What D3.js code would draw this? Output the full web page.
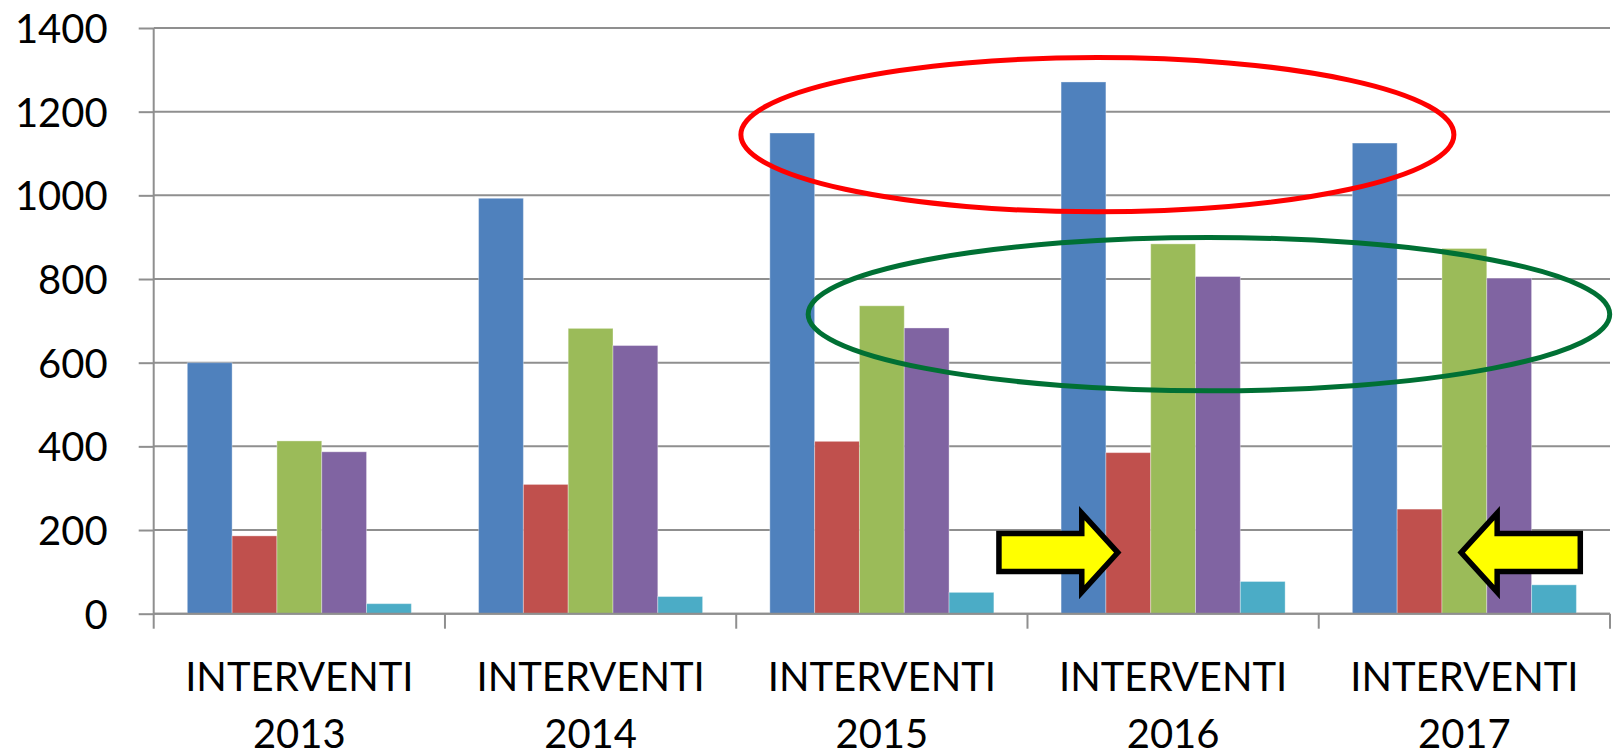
<!DOCTYPE html>
<html>
<head>
<meta charset="utf-8">
<script src="https://cdn.jsdelivr.net/npm/d3@7"></script>
<style>
  html, body { margin: 0; padding: 0; background: #fff; }
  svg { display: block; }
  text { font-family: Lato, "Open Sans", sans-serif; fill: #000; }
</style>
</head>
<body>
<svg id="chart" width="1617" height="755"></svg>
<script>
// Categories (two-line labels) and the five series per year
const categories = ["INTERVENTI 2013", "INTERVENTI 2014", "INTERVENTI 2015", "INTERVENTI 2016", "INTERVENTI 2017"];
const seriesA = [600, 993, 1149, 1271, 1125];   // blue
const seriesB = [186, 309, 412, 385, 250];      // red
const seriesC = [413, 682, 736, 884, 873];      // green
const seriesD = [387, 641, 683, 806, 802];      // purple
const seriesE = [24, 41, 51, 77, 69];           // teal
const yTicks = [0, 200, 400, 600, 800, 1000, 1200, 1400];

const series = [seriesA, seriesB, seriesC, seriesD, seriesE];
const colors = ["#4f81bd", "#c0504d", "#9bbb59", "#8064a2", "#4bacc6"];

const svg = d3.select("#chart");
const margin = { left: 153.7, top: 28, right: 7, bottom: 141.3 };
const W = 1617, H = 755;
const innerW = W - margin.left - margin.right;
const innerH = H - margin.top - margin.bottom;

const g = svg.append("g").attr("transform", `translate(${margin.left},${margin.top})`);

const x = d3.scaleBand().domain(categories).range([0, innerW]).paddingInner(0).paddingOuter(0);
const step = x.step();
// clustered bars: gap of 1.5 bar widths split around each group
const barW = step / (series.length + 1.5);
const y = d3.scaleLinear().domain([0, 1400]).range([innerH, 0]);
// fractional category position, used to place the annotations
const xf = v => v * step;

const gridColor = "#8f8f8f";

// horizontal gridlines
g.append("g").selectAll("line").data(yTicks).join("line")
  .attr("x1", 0).attr("x2", innerW)
  .attr("y1", d => y(d)).attr("y2", d => y(d))
  .attr("stroke", gridColor).attr("stroke-width", 2);

// y axis
const yAxis = g.append("g")
  .call(d3.axisLeft(y).tickValues(yTicks).tickFormat(d3.format("d")).tickSize(15).tickPadding(31));
yAxis.select(".domain").attr("stroke", gridColor).attr("stroke-width", 2)
  .attr("d", `M0,${innerH}V0`);
yAxis.selectAll(".tick line").attr("stroke", gridColor).attr("stroke-width", 2);
yAxis.selectAll(".tick text").attr("font-size", 40).attr("dy", "0.36em")
  .style("font-family", "Lato, 'Open Sans', sans-serif").attr("fill", "#000");

// bars
series.forEach((vals, si) => {
  g.append("g").selectAll("rect").data(vals).join("rect")
    .attr("x", (d, i) => x(categories[i]) + 0.75 * barW + si * barW)
    .attr("width", barW)
    .attr("y", d => y(d))
    .attr("height", d => innerH - y(d))
    .attr("fill", colors[si])
    .attr("stroke", "rgba(255,255,255,0.35)")
    .attr("stroke-width", 1);
});

// x axis baseline and category boundary ticks
const xAxis = g.append("g").attr("transform", `translate(0,${innerH})`);
xAxis.append("line").attr("x1", 0).attr("x2", innerW).attr("y1", 0).attr("y2", 0)
  .attr("stroke", gridColor).attr("stroke-width", 2);
xAxis.selectAll("line.tk").data(d3.range(categories.length + 1)).join("line")
  .attr("class", "tk")
  .attr("x1", d => d * step).attr("x2", d => d * step)
  .attr("y1", 0).attr("y2", 15)
  .attr("stroke", gridColor).attr("stroke-width", 2);

// two-line category labels
const lbl = xAxis.selectAll("text.cat").data(categories).join("text")
  .attr("class", "cat")
  .attr("text-anchor", "middle")
  .attr("font-size", 40)
  .attr("transform", d => `translate(${x(d) + step / 2},0)`);
lbl.append("tspan").attr("x", 0).attr("y", 77.3).text(d => d.split(" ")[0]);
lbl.append("tspan").attr("x", 0).attr("y", 134.3).text(d => d.split(" ")[1]);

// highlight ellipses (centre in category units / values, radii likewise)
const ellipses = [
  { cx: 3.240, cy: 1145, rx: 1.224, ry: 184.5, color: "#ff0000" },
  { cx: 3.623, cy: 716, rx: 1.376, ry: 183.3, color: "#007034" }
];
g.append("g").selectAll("ellipse").data(ellipses).join("ellipse")
  .attr("cx", d => xf(d.cx))
  .attr("cy", d => y(d.cy))
  .attr("rx", d => xf(d.rx))
  .attr("ry", d => y(0) - y(d.ry))
  .attr("fill", "none")
  .attr("stroke", d => d.color)
  .attr("stroke-width", 5);

// block arrows pointing at the red bars of 2016 and 2017
const arrows = [
  { tip: 3.310, tail: 2.902, value: 146 },
  { tip: 4.489, tail: 4.898, value: 146 }
];
const headLen = 36, headHalf = 39.5, shaftHalf = 19;
function arrowPath(a) {
  const tx = xf(a.tip), sx = xf(a.tail), cy = y(a.value);
  const dir = Math.sign(tx - sx);
  const bx = tx - dir * headLen;
  return `M${sx},${cy - shaftHalf}L${bx},${cy - shaftHalf}L${bx},${cy - headHalf}` +
         `L${tx},${cy}L${bx},${cy + headHalf}L${bx},${cy + shaftHalf}L${sx},${cy + shaftHalf}Z`;
}
g.append("g").selectAll("path").data(arrows).join("path")
  .attr("d", arrowPath)
  .attr("fill", "#ffff00")
  .attr("stroke", "#000")
  .attr("stroke-width", 5.5)
  .attr("stroke-linejoin", "miter")
  .attr("stroke-miterlimit", 10);
</script>
</body>
</html>
